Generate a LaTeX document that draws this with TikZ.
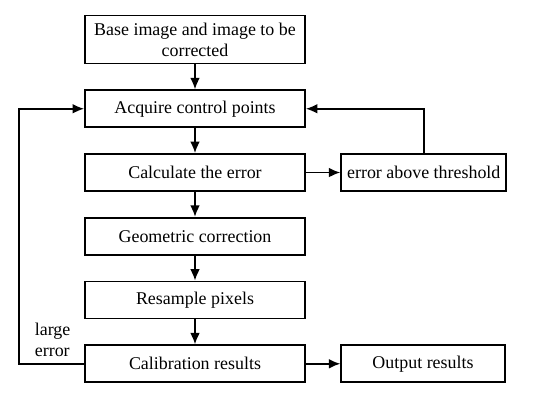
\documentclass[tikz,border=0pt]{standalone}
\usepackage{fontspec}
\setmainfont{Liberation Serif}
\usetikzlibrary{positioning,arrows.meta}

\begin{document}
\begin{tikzpicture}[>={Latex[length=6.5pt,width=5.5pt]},line width=1pt,node distance=0.5cm and 0.69cm,font=\fontsize{10.2}{12}\selectfont]
        \useasboundingbox (0,0) rectangle (11,-8.06);
        \node[draw,minimum width=4.4cm,minimum height=0.96cm,align=center] (base) at (3.9,-0.79) {Base image and image to be\\corrected};
        \node[draw,minimum width=4.4cm,minimum height=0.74cm,below=of base] (acquire) {Acquire control points};
        \node[draw,minimum width=4.4cm,minimum height=0.74cm,below=of acquire] (calc) {Calculate the error};
        \node[draw,minimum width=4.4cm,minimum height=0.74cm,below=of calc] (geom) {Geometric correction};
        \node[draw,minimum width=4.4cm,minimum height=0.74cm,below=of geom] (resample) {Resample pixels};
        \node[draw,minimum width=4.4cm,minimum height=0.74cm,below=of resample] (calib) {Calibration results};
        \node[draw,minimum width=3.27cm,minimum height=0.74cm,right=of calc] (thresh) {error above threshold};
        \node[draw,minimum width=3.27cm,minimum height=0.74cm,right=of calib] (output) {Output results};
        \coordinate (loopx) at (0.38,0);
        \coordinate (corner) at (calib.west -| loopx);
        \node[above right=0.13cm and 0.3cm of corner,align=left,inner sep=0pt] (large) {large\\error};
        \draw[->] (base) -- (acquire);
        \draw[->] (acquire) -- (calc);
        \draw[->] (calc) -- (geom);
        \draw[->] (geom) -- (resample);
        \draw[->] (resample) -- (calib);
        \draw[->] (calc) -- (thresh);
        \draw[->] (calib) -- (output);
        \draw[->] (thresh.north) |- (acquire.east);
        \draw[->] (calib.west) -- (corner) |- (acquire.west);
    \end{tikzpicture}
\end{document}
